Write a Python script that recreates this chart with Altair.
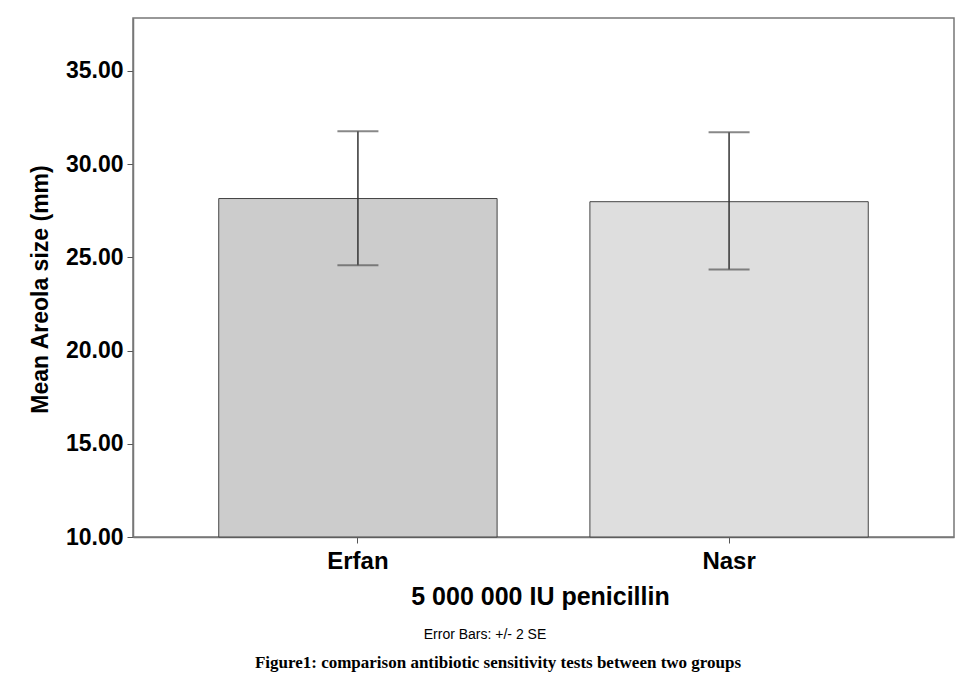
import altair as alt
import pandas as pd

groups = ["Erfan", "Nasr"]
means = [28.15, 27.98]
lower = [24.57, 24.35]
upper = [31.76, 31.70]
fills = ["#cccccc", "#dedede"]

df = pd.DataFrame({"group": groups, "mean": means, "lo": lower, "hi": upper, "fill": fills})

FONT = "Liberation Sans"

x_enc = alt.X("group:N", sort=groups,
              scale=alt.Scale(paddingInner=0.25, paddingOuter=0.231),
              axis=alt.Axis(title="5 000 000 IU penicillin", labelAngle=0,
                            labelFont=FONT, labelFontSize=24, labelFontWeight="bold",
                            labelColor="#000", titleFont=FONT, titleFontSize=25,
                            titleFontWeight="bold", titleColor="#000",
                            tickSize=6, labelPadding=6, titlePadding=11, titleX=407,
                            domainColor="#777", tickColor="#555", domainWidth=1.5))
y_scale = alt.Scale(domain=[10, 37.83], nice=False, zero=False)

bars = alt.Chart(df).mark_bar(stroke="#444", strokeWidth=1).encode(
    x=x_enc,
    y=alt.Y("mean:Q", scale=y_scale,
            axis=alt.Axis(title="Mean Areola size (mm)", values=[10, 15, 20, 25, 30, 35],
                          format=".2f", labelFont=FONT, labelFontSize=23,
                          labelFontWeight="bold", labelColor="#000",
                          titleFont=FONT, titleFontSize=23, titleFontWeight="bold",
                          titleColor="#000", tickSize=6, labelPadding=4,
                          titlePadding=13, titleY=271, domainColor="#777", tickColor="#555",
                          domainWidth=1.5, grid=False)),
    y2=alt.datum(10),
    fill=alt.Fill("fill:N", scale=None),
)

rules = alt.Chart(df).mark_rule(color="#333", strokeWidth=1.5).encode(
    x=alt.X("group:N", sort=groups), y="lo:Q", y2="hi:Q")
cap_lo = alt.Chart(df).mark_tick(color="#555", thickness=2, size=41, orient="horizontal").encode(
    x=alt.X("group:N", sort=groups), y="lo:Q")
cap_hi = alt.Chart(df).mark_tick(color="#555", thickness=2, size=41, orient="horizontal").encode(
    x=alt.X("group:N", sort=groups), y="hi:Q")

note = alt.Chart(pd.DataFrame({"t": ["Error Bars: +/- 2 SE"]})).mark_text(
    font=FONT, fontSize=14, color="#000", align="center", baseline="alphabetic").encode(
    text="t:N", x=alt.value(352), y=alt.value(621))
caption = alt.Chart(pd.DataFrame({"t": ["Figure1: comparison antibiotic sensitivity tests between two groups"]})).mark_text(
    font="Liberation Serif", fontSize=17, fontWeight="bold", color="#000",
    align="center", baseline="alphabetic").encode(
    text="t:N", x=alt.value(365), y=alt.value(650))

chart = alt.layer(bars, rules, cap_lo, cap_hi, note, caption).properties(
    width=821, height=519,
    autosize=alt.AutoSizeParams(type="none"),
    padding={"left": 125, "top": 10, "right": 2, "bottom": 140},
    background="white",
).configure_view(stroke="#777", strokeWidth=1.5)

chart.save("out.html", embed_options={"renderer": "svg", "actions": False})
